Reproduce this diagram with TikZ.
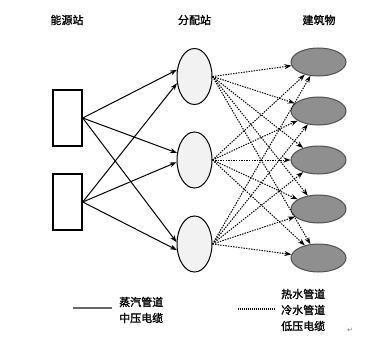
\documentclass[tikz,border=0pt]{standalone}
\usepackage{fontspec}
\newfontfamily\cjk[AutoFakeBold=1.5]{Noto Sans CJK SC}
\newfontfamily\symfont{DejaVu Sans}
\usetikzlibrary{shapes.geometric,arrows.meta}
\definecolor{hubfill}{RGB}{242,242,242}
\definecolor{housefill}{RGB}{143,143,143}
\definecolor{houseline}{RGB}{80,80,80}
\tikzset{
  headtext/.style={font=\cjk\bfseries\fontsize{11}{16}\selectfont,inner sep=1pt},
  station/.style={draw,line width=1.4pt,minimum width=29pt,minimum height=56pt,inner sep=0pt},
  hub/.style={ellipse,draw,line width=1pt,fill=hubfill,minimum width=35pt,minimum height=56pt,inner sep=0pt},
  house/.style={ellipse,draw=houseline,line width=1pt,fill=housefill,minimum width=55pt,minimum height=28pt,inner sep=0pt},
  pipe/.style={line width=1pt,-{Stealth[length=7pt,width=5pt]}},
  cable/.style={pipe,dash pattern=on 1.4pt off 1.2pt}
}
\begin{document}
\begin{tikzpicture}[x=1pt,y=-1pt]
  \useasboundingbox (0,0) rectangle (380,337);
  % column headings
  \node[headtext] (src) at (67,20) {能源站};
  \node[headtext] (mid) at (194.5,20) {分配站};
  \node[headtext] (dst) at (319,20) {建筑物};
  % energy stations
  \node[station] (s1) at (67.5,118) {};
  \node[station] (s2) at (67.5,202) {};
  % distribution stations
  \node[hub] (d1) at (194.5,76.5) {};
  \node[hub] (d2) at (194.5,160) {};
  \node[hub] (d3) at (194.5,244) {};
  % buildings
  \node[house] (b1) at (318.5,62) {};
  \node[house] (b2) at (318.5,111) {};
  \node[house] (b3) at (318.5,160) {};
  \node[house] (b4) at (318.5,209) {};
  \node[house] (b5) at (318.5,258) {};
  % steam pipes and medium voltage cables
  \draw[pipe] (s1.east) -- (d1.159);
  \draw[pipe] (s1.east) -- (d2.158);
  \draw[pipe] (s1.east) -- (d3.174);
  \draw[pipe] (s2.east) -- (d1.201);
  \draw[pipe] (s2.east) -- (d2.187);
  \draw[pipe] (s2.east) -- (d3.199);
  % water pipes and low voltage cables
  \foreach \i in {1,2,3}
    \foreach \j in {1,...,5}
      \draw[cable] (d\i.east) -- (b\j);
  % legend
  \coordinate (k1a) at (73,308);
  \coordinate (k1b) at (112,308);
  \coordinate (k2a) at (238,309);
  \coordinate (k2b) at (276,309);
  \draw[line width=1.2pt,gray!80!black] (k1a) -- (k1b);
  \draw[line width=1.2pt,dash pattern=on 1pt off 1pt] (k2a) -- (k2b);
  \node[headtext,anchor=west,align=left] (t1) at (118,310) {蒸汽管道\\中压电缆};
  \node[headtext,anchor=west,align=left] (t2) at (280,310) {热水管道\\冷水管道\\低压电缆};
  \node[text=gray,font=\symfont\fontsize{7}{7}\selectfont,inner sep=0pt] (ret) at (350,330) {↵};
\end{tikzpicture}
\end{document}
